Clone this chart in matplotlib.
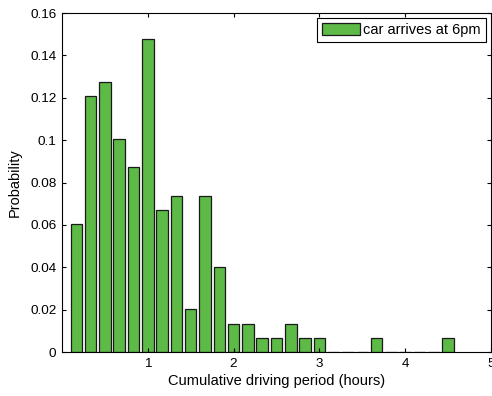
import matplotlib
matplotlib.use("Agg")
import matplotlib.pyplot as plt

# bin centres (hours) and probability of each 10-minute bin
hours = [1/6, 2/6, 3/6, 4/6, 5/6, 1.0, 7/6, 8/6, 9/6, 10/6, 11/6, 2.0,
         13/6, 14/6, 15/6, 16/6, 17/6, 3.0, 19/6, 20/6, 21/6, 22/6,
         23/6, 4.0, 25/6, 26/6, 4.5]
prob = [0.0604, 0.1208, 0.1275, 0.1007, 0.0872, 0.1477, 0.0671, 0.0738,
        0.0201, 0.0738, 0.0403, 0.0134, 0.0134, 0.0067, 0.0067, 0.0134,
        0.0067, 0.0067, 0, 0, 0, 0.0067, 0, 0, 0, 0, 0.0067]
label = "car arrives at 6pm"

plt.rcParams["font.family"] = ["Liberation Sans", "DejaVu Sans"]
plt.rcParams["font.size"] = 10.5

fig = plt.figure(figsize=(4.92, 3.96), dpi=100)
ax = fig.add_axes([0.126, 0.111, 0.872, 0.856])

ax.bar(hours, prob, width=0.8 / 6, color="#5dba47", edgecolor="#1a1a1a",
       linewidth=0.9, label=label)

ax.set_xlim(0, 5)
ax.set_ylim(0, 0.16)
ax.set_xticks([1, 2, 3, 4, 5])
ax.set_yticks([0, 0.02, 0.04, 0.06, 0.08, 0.1, 0.12, 0.14, 0.16])
ax.set_yticklabels(["0", "0.02", "0.04", "0.06", "0.08", "0.1", "0.12",
                    "0.14", "0.16"])
ax.tick_params(direction="in", top=True, right=True, length=3, width=0.8,
               pad=4, labelsize=9.7)
for s in ax.spines.values():
    s.set_linewidth(0.8)

ax.set_xlabel("Cumulative driving period (hours)", labelpad=3)
ax.set_ylabel("Probability", labelpad=6)

leg = ax.legend(loc="upper right", fancybox=False, edgecolor="black",
                framealpha=1, borderaxespad=0.35, handlelength=2.6,
                handleheight=0.9, handletextpad=0.25, borderpad=0.35,
                fontsize=10.5)
leg.get_frame().set_linewidth(0.8)

fig.savefig("out.png", dpi=100)
